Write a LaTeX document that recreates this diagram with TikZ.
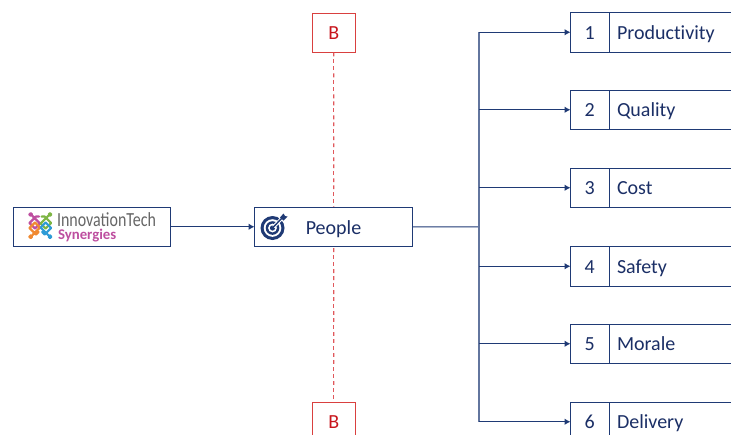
\documentclass[tikz,border=0pt]{standalone}
\usepackage{fontspec}
\setmainfont[Ligatures=NoCommon]{Carlito}
\usetikzlibrary{arrows.meta,calc}
\definecolor{navy}{HTML}{1F3A75}
\definecolor{boxred}{HTML}{D9403F}
\definecolor{dashred}{HTML}{E0585C}
\definecolor{txtred}{HTML}{C8161D}
\definecolor{txtblue}{HTML}{1B2F66}
\definecolor{lgrey}{HTML}{666666}
\definecolor{lmag}{HTML}{BE4FA0}
\definecolor{lgreen}{HTML}{7DB544}
\definecolor{lorange}{HTML}{F08A32}
\definecolor{lblue}{HTML}{2E9BD6}
\tikzset{
  x=1pt,y=-1pt,
  every node/.style={inner sep=0pt,outer sep=0pt},
  boxa/.style={draw=navy,line width=1pt,fill=white,anchor=north west,minimum height=39.5pt,text height=16pt,text depth=2pt},
  numbox/.style={boxa,minimum width=38.5pt,font=\fontsize{20}{24}\selectfont,text=txtblue},
  labbox/.style={boxa,minimum width=135pt,font=\fontsize{20}{24}\selectfont,text=txtblue,align=left,text width=119pt,inner xsep=8pt},
  redbox/.style={draw=boxred,line width=1pt,fill=white,anchor=north west,minimum width=42.5pt,minimum height=39.5pt,text=txtred,font=\fontsize{20}{24}\selectfont,text height=16pt,text depth=2pt},
  conn/.style={draw=navy,line width=1pt},
  trunkline/.style={draw=navy!70!white,line width=1.3pt},
  arr/.style={conn,-{Latex[length=6pt,width=6.5pt]}},
  redline/.style={draw=dashred,line width=1.3pt},
  icon/.style={line width=2.2pt,line cap=round,line join=round},
  dot/.style={line width=1.8pt},
}
\begin{document}
\begin{tikzpicture}
\clip (0,0) rectangle (731,434);
\fill[white] (0,0) rectangle (731,434);
\node[redbox] (bt) at (312.5,13) {B};
\node[redbox] (bb) at (312.5,402) {B};
\foreach \k in {0,...,49}{
  \path[redline] ($(bt.south)!\k/50!(bb.north)$) -- ($(bt.south)!\k/50+0.011!(bb.north)$);
}
\node[boxa,minimum width=157pt] (logo) at (13.5,207) {};
\node[boxa,minimum width=157.5pt] (people) at (254.5,207) {};
\node[font=\fontsize{20}{24}\selectfont,text=txtblue,text height=16pt,text depth=2pt] (peopletxt) at (333.5,227) {People};
\foreach \n/\y/\t in {1/12.5/Productivity,2/90/Quality,3/168/Cost,4/246.5/Safety,5/324/Morale,6/402/Delivery}{
  \node[numbox] (n\n) at (570.5,\y) {\n};
  \node[labbox] (l\n) at (609,\y) {\t};
}
\draw[arr] (logo.east) -- (people.west);
\coordinate (trunk) at (479,227);
\draw[conn] (people.east) -- (trunk);
\draw[trunkline] (trunk |- n1.west) -- (trunk |- n6.west);
\foreach \n in {1,...,6}{
  \draw[arr] (trunk |- n\n.west) -- (n\n.west);
}
% target icon
\begin{scope}[navy]
  \fill (272.5,228) circle (12);
  \fill[white] (272.5,228) circle (8.8);
  \fill (272.5,228) circle (6.8);
  \fill[white] (272.5,228) circle (4.4);
  \fill (272.5,228) circle (2.6);
  \draw[white,line width=3.4pt] (273.5,227) -- (283,217);
  \draw[line width=1.4pt] (272.5,228) -- (282,218);
  \fill (280,217.5) -- (283.5,213.5) -- (285,216) -- (287.5,216.5) -- (283.5,220.5) -- cycle;
\end{scope}
% logo
\node[anchor=base west,text=lgrey] (ltitle) at (57,226.5) {\fontspec[FakeStretch=0.8]{Carlito}\fontsize{20}{22}\selectfont InnovationTech};
\node[anchor=base west,text=lmag] (lsub) at (58,239) {\fontsize{14.8}{17}\selectfont\bfseries Synergies};
\begin{scope}[icon]
  \draw[lmag,dot] (30.7,214.5) circle (1.6);
  \draw[lmag] (32.5,216) -- (40,223.5) -- (35,228.5) -- (29.5,223) -- (36,216.5) -- (39,216.5);
  \draw[lgreen,dot] (50,214.5) circle (1.6);
  \draw[lgreen] (48.1,216) -- (40.6,223.5) -- (45.6,228.5) -- (51.1,223) -- (44.6,216.5) -- (41.6,216.5);
  \draw[lorange,dot] (30.7,236.7) circle (1.6);
  \draw[lorange] (32.5,235) -- (40,227.5) -- (35,222.5) -- (29.5,228) -- (36,234.5) -- (38.5,232);
  \draw[lblue,dot] (50,236.7) circle (1.6);
  \draw[lblue] (48.1,235) -- (40.6,227.5) -- (45.6,222.5) -- (51.1,228) -- (44.6,234.5) -- (42.1,232);
\end{scope}
\end{tikzpicture}
\end{document}
